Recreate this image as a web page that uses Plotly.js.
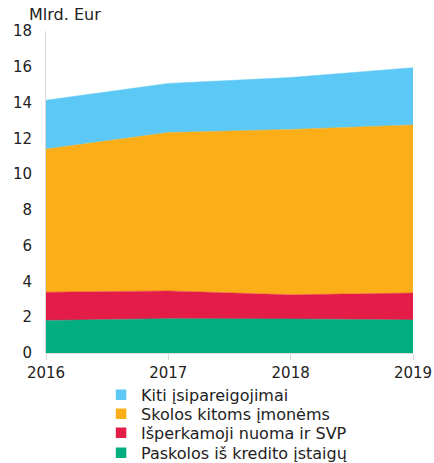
<!DOCTYPE html>
<html>
<head>
<meta charset="utf-8">
<script src="https://cdn.plot.ly/plotly-3.0.1.min.js"></script>
<style>html,body{margin:0;padding:0;background:#fff;}#chart{width:434px;height:463px;}</style>
</head>
<body>
<div id="chart"></div>
<script>
var years = [2016, 2017, 2018, 2019];
var paskolos = [1.82, 1.92, 1.90, 1.85];
var isperkamoji = [1.58, 1.55, 1.35, 1.50];
var skolos = [8.00, 8.85, 9.25, 9.40];
var kiti = [2.73, 2.75, 2.90, 3.20];
var seriesNames = ["Paskolos iš kredito įstaigų", "Išperkamoji nuoma ir SVP", "Skolos kitoms įmonėms", "Kiti įsipareigojimai"];
var seriesColors = ["#00AE7F", "#E31D48", "#FBAE17", "#5BC8F5"];
var seriesData = [paskolos, isperkamoji, skolos, kiti];
var legendIds = ["legend4", "legend3", "legend2", "legend"];

var traces = seriesData.map(function (d, i) {
  return {
    x: years, y: d, name: seriesNames[i], type: 'scatter', mode: 'lines',
    stackgroup: 'one', fillcolor: seriesColors[i], showlegend: false,
    line: {color: seriesColors[i], width: 0.5}
  };
});
// legend entries (square swatches), no data marks
seriesNames.forEach(function (n, i) {
  traces.push({x: [null], y: [null], type: 'bar', name: n, legend: legendIds[i],
               marker: {color: seriesColors[i], line: {color: '#fff', width: 1.5}},
               showlegend: true, hoverinfo: 'skip'});
});

var font = {family: 'DejaVu Sans, Verdana, sans-serif', size: 15, color: '#222'};
var bigFont = {family: 'DejaVu Sans, Verdana, sans-serif', size: 16, color: '#222'};
function leg(y) {
  return {x: 0.15, xanchor: 'left', y: y, yanchor: 'middle', font: bigFont,
          bgcolor: 'rgba(0,0,0,0)', borderwidth: 0};
}
var layout = {
  width: 434, height: 463,
  margin: {l: 46, r: 21, t: 31, b: 110, autoexpand: false},
  paper_bgcolor: '#fff', plot_bgcolor: '#fff',
  font: font,
  showlegend: true,
  legend: leg(-0.130),
  legend2: leg(-0.189),
  legend3: leg(-0.248),
  legend4: leg(-0.310),
  xaxis: {range: [2016, 2019], tickvals: years, ticktext: years.map(String),
          showgrid: false, zeroline: false, showline: true, linecolor: '#d9d9d9', linewidth: 1,
          ticks: 'outside', ticklen: 6, tickcolor: '#d9d9d9', tickfont: font},
  yaxis: {range: [0, 18], dtick: 2, showgrid: false, zeroline: false, showline: true,
          linecolor: '#d9d9d9', linewidth: 1, ticks: '', ticklabelstandoff: 10, tickfont: font},
  annotations: [{text: 'Mlrd. Eur', xref: 'paper', yref: 'paper', x: -0.052, y: 1.052,
                 xanchor: 'left', yanchor: 'middle', showarrow: false, font: bigFont}]
};
Plotly.newPlot('chart', traces, layout, {displayModeBar: false, staticPlot: true});
</script>
</body>
</html>
